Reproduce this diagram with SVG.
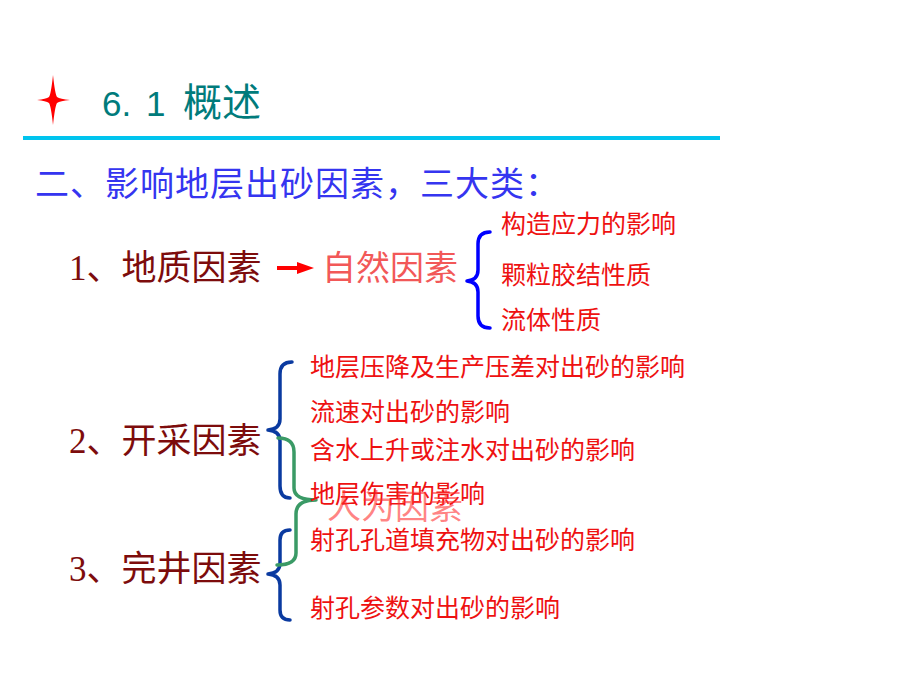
<svg xmlns="http://www.w3.org/2000/svg" width="920" height="690" viewBox="0 0 920 690">
<style>
text{font-family:"Liberation Serif","Noto Sans CJK SC",serif;}
.title{font-family:"Liberation Sans","Noto Sans CJK SC",sans-serif;font-size:35px;fill:#007b7b;}
.sub{font-size:34px;fill:#3535f0;letter-spacing:1px;}
.main{font-size:35px;fill:#7d0c0c;}
.nat{font-size:34px;fill:#f25858;}
.item{font-size:25px;fill:#ee1111;}
.human{font-size:34px;fill:#ff3030;fill-opacity:0.6;}
.brace{fill:none;stroke-width:3.5;stroke-linecap:round;stroke-linejoin:round;}
</style>
<rect width="920" height="690" fill="#ffffff"/>

<g id="header">
  <path d="M53,75 Q55,94 57,97 Q60,99 70,100 Q60,101 57,103 Q55,106 53,125 Q51,106 49,103 Q46,101 37,100 Q46,99 49,97 Q51,94 53,75 Z" fill="#ff0000"/>
  <text class="title" x="102" y="116">6.<tspan x="146">1</tspan><tspan x="183" style="font-size:39px">概述</tspan></text>
  <rect x="23" y="136" width="697" height="4" fill="#00c4ee"/>
  <text class="sub" x="35" y="196">二、影响地层出砂因素，三大类：</text>
</g>

<g id="connectors">
  <line x1="277" y1="268" x2="300" y2="268" stroke="#ff0000" stroke-width="4"/>
  <polygon points="297,262 314,268 297,274" fill="#ff0000"/>
  <path class="brace" stroke="#0000ff" d="M490,232 Q478,232 478,244 L478,270 Q478,280 467,281 Q478,282 478,292 L478,316 Q478,328 490,328"/>
  <path class="brace" stroke="#0a3aa0" d="M292,362 Q280,362 280,374 L280,419 Q280,429 268,430 Q280,431 280,441 L280,486 Q280,498 290,498"/>
  <path class="brace" stroke="#0a3aa0" d="M290,530 Q280,530 280,540 L280,563 Q280,573 268,574 Q280,575 280,585 L280,610 Q280,620 290,620"/>
  <path class="brace" stroke="#3a9a66" stroke-width="3" d="M278,438 Q294,438 294,452 L294,488 Q294,500 316,500 Q296,500 296,514 L296,553 Q296,565 277,565"/>
</g>

<g id="geo">
  <text class="main" x="69" y="280">1、地质因素</text>
</g>
<g id="natural">
  <text class="nat" x="322" y="280">自然因素</text>
</g>
<g id="geo-items">
  <text class="item" x="501" y="233">构造应力的影响</text>
  <text class="item" x="501" y="284">颗粒胶结性质</text>
  <text class="item" x="501" y="329">流体性质</text>
</g>

<g id="production">
  <text class="main" x="69" y="453">2、开采因素</text>
</g>
<g id="production-items">
  <text class="item" x="310" y="376">地层压降及生产压差对出砂的影响</text>
  <text class="item" x="310" y="421">流速对出砂的影响</text>
  <text class="item" x="310" y="459">含水上升或注水对出砂的影响</text>
  <text class="item" x="310" y="503">地层伤害的影响</text>
</g>

<g id="human">
  <text class="human" x="327" y="519">人为因素</text>
</g>

<g id="completion">
  <text class="main" x="69" y="581">3、完井因素</text>
</g>
<g id="completion-items">
  <text class="item" x="310" y="549">射孔孔道填充物对出砂的影响</text>
  <text class="item" x="310" y="617">射孔参数对出砂的影响</text>
</g>
</svg>
